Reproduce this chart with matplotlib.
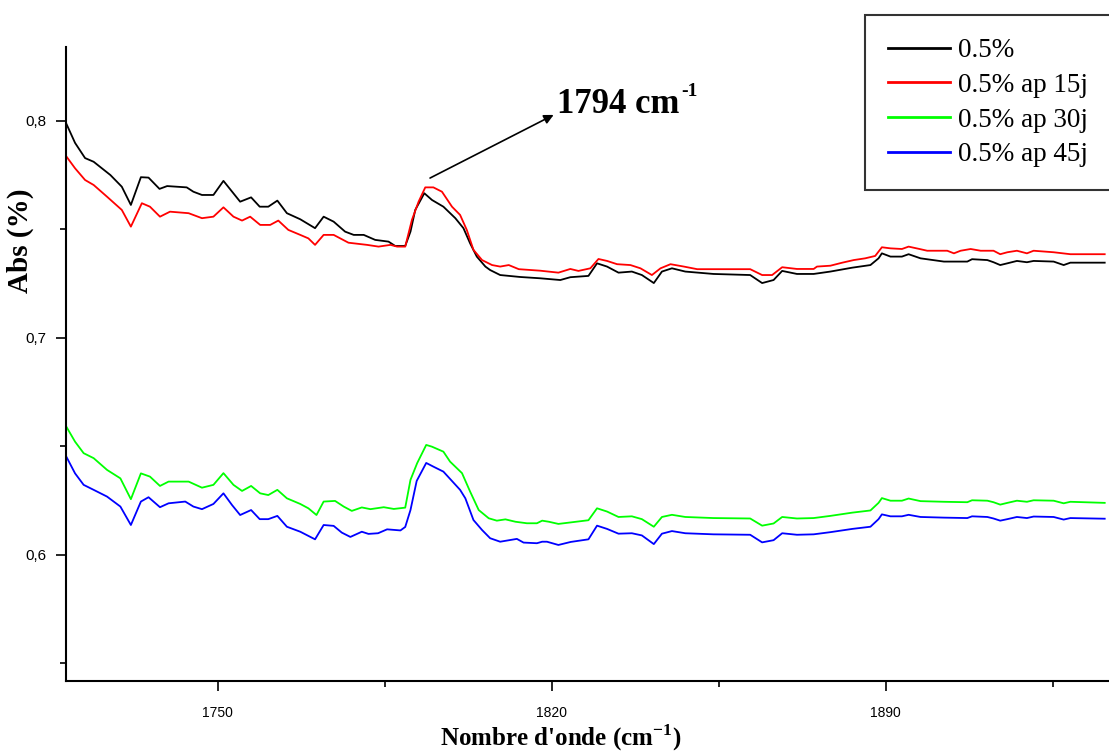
import matplotlib
matplotlib.use("Agg")
import matplotlib.pyplot as plt
from matplotlib.ticker import MultipleLocator

plt.rcParams['font.family'] = ['Liberation Sans', 'DejaVu Sans']
plt.rcParams['mathtext.fontset'] = 'custom'
plt.rcParams['mathtext.rm'] = 'Liberation Serif:bold'
plt.rcParams['mathtext.bf'] = 'Liberation Serif:bold'

# spectres IR, zone du carbonyle (nombre d'onde en cm-1, absorbance)
wn_0 = [1718.2, 1720.1, 1722.2, 1724.0, 1727.5, 1729.9, 1731.8, 1733.9, 1735.5, 1737.8,
        1739.4, 1743.5, 1744.9, 1746.7, 1749.1, 1751.2, 1754.7, 1757.0, 1758.8, 1760.6,
        1762.5, 1764.5, 1767.3, 1770.4, 1772.2, 1774.3, 1776.7, 1778.5, 1780.6, 1783.0,
        1785.8, 1787.2, 1789.3, 1790.4, 1791.4, 1793.3, 1794.9, 1797.3, 1799.8, 1801.5,
        1802.9, 1804.3, 1806.1, 1807.1, 1809.2, 1813.4, 1817.6, 1821.8, 1823.9, 1827.7,
        1829.5, 1831.6, 1834.0, 1836.8, 1838.9, 1841.4, 1843.1, 1845.2, 1848.0, 1853.9,
        1861.6, 1864.1, 1866.5, 1868.3, 1871.4, 1874.9, 1878.4, 1883.0, 1886.8, 1888.5,
        1889.2, 1891.0, 1893.4, 1894.8, 1897.3, 1902.2, 1907.1, 1908.1, 1911.3, 1912.6,
        1914.0, 1915.5, 1917.5, 1919.6, 1921.0, 1925.2, 1927.3, 1928.7, 1935.9]
abs_0 = [0.7991, 0.7899, 0.7829, 0.7812, 0.7751, 0.7697, 0.7613, 0.7741, 0.7739, 0.7687,
         0.7700, 0.7694, 0.7674, 0.7659, 0.7659, 0.7724, 0.7628, 0.7648, 0.7605, 0.7605,
         0.7633, 0.7575, 0.7547, 0.7506, 0.7559, 0.7536, 0.7490, 0.7475, 0.7475, 0.7452,
         0.7444, 0.7424, 0.7424, 0.7490, 0.7590, 0.7667, 0.7636, 0.7605, 0.7552, 0.7506,
         0.7436, 0.7375, 0.7329, 0.7313, 0.7290, 0.7281, 0.7275, 0.7267, 0.7280, 0.7286,
         0.7344, 0.7329, 0.7301, 0.7306, 0.7290, 0.7253, 0.7306, 0.7321, 0.7306, 0.7295,
         0.7290, 0.7253, 0.7267, 0.7309, 0.7295, 0.7295, 0.7306, 0.7324, 0.7336, 0.7367,
         0.7390, 0.7375, 0.7375, 0.7386, 0.7367, 0.7352, 0.7352, 0.7363, 0.7359, 0.7349,
         0.7336, 0.7344, 0.7355, 0.7349, 0.7355, 0.7352, 0.7336, 0.7347, 0.7347]

wn_15 = [1718.2, 1720.1, 1722.2, 1724.0, 1726.8, 1729.9, 1731.8, 1734.1, 1735.8, 1737.9,
         1740.0, 1743.9, 1746.7, 1749.1, 1751.2, 1753.3, 1755.1, 1756.8, 1758.9, 1761.0,
         1762.7, 1764.8, 1767.3, 1769.0, 1770.4, 1772.2, 1774.3, 1777.4, 1781.3, 1783.7,
         1786.2, 1787.6, 1789.3, 1790.7, 1792.1, 1793.5, 1795.2, 1797.0, 1799.1, 1800.8,
         1802.2, 1803.6, 1805.4, 1807.5, 1809.2, 1811.0, 1813.1, 1817.6, 1821.4, 1823.9,
         1825.6, 1828.1, 1829.8, 1831.6, 1833.7, 1836.5, 1838.6, 1841.0, 1842.8, 1844.9,
         1847.7, 1850.5, 1861.6, 1864.1, 1866.2, 1868.3, 1871.4, 1874.9, 1875.6, 1878.4,
         1880.9, 1883.3, 1885.7, 1887.8, 1889.2, 1891.0, 1893.4, 1894.8, 1897.3, 1898.7,
         1902.9, 1904.3, 1905.7, 1907.8, 1909.9, 1912.6, 1914.0, 1915.5, 1917.5, 1919.6,
         1921.0, 1925.2, 1928.7, 1935.9]
abs_15 = [0.7839, 0.7782, 0.7728, 0.7705, 0.7651, 0.7590, 0.7513, 0.7621, 0.7605, 0.7559,
          0.7582, 0.7575, 0.7552, 0.7559, 0.7602, 0.7559, 0.7541, 0.7559, 0.7521, 0.7521,
          0.7541, 0.7498, 0.7475, 0.7459, 0.7429, 0.7475, 0.7475, 0.7439, 0.7429, 0.7421,
          0.7429, 0.7421, 0.7421, 0.7544, 0.7628, 0.7694, 0.7694, 0.7674, 0.7605, 0.7567,
          0.7498, 0.7406, 0.7359, 0.7336, 0.7329, 0.7336, 0.7317, 0.7310, 0.7301, 0.7318,
          0.7309, 0.7321, 0.7364, 0.7355, 0.7340, 0.7336, 0.7321, 0.7290, 0.7321, 0.7340,
          0.7329, 0.7317, 0.7317, 0.7290, 0.7290, 0.7326, 0.7318, 0.7318, 0.7329, 0.7333,
          0.7347, 0.7359, 0.7367, 0.7378, 0.7418, 0.7413, 0.7410, 0.7421, 0.7409, 0.7402,
          0.7402, 0.7390, 0.7402, 0.7410, 0.7402, 0.7402, 0.7386, 0.7395, 0.7402, 0.7390,
          0.7402, 0.7395, 0.7386, 0.7386]

wn_30 = [1718.2, 1720.1, 1721.9, 1724.0, 1726.8, 1729.6, 1731.8, 1733.9, 1735.8, 1737.9,
         1739.7, 1743.9, 1746.7, 1749.1, 1751.2, 1753.3, 1755.1, 1757.0, 1758.9, 1760.6,
         1762.5, 1764.5, 1767.3, 1769.0, 1770.7, 1772.2, 1774.6, 1776.4, 1778.1, 1780.2,
         1782.0, 1784.8, 1786.9, 1789.3, 1790.4, 1791.8, 1793.7, 1794.9, 1797.3, 1798.7,
         1801.2, 1802.9, 1804.7, 1806.8, 1808.5, 1810.3, 1812.4, 1814.8, 1816.9, 1818.0,
         1819.4, 1821.4, 1824.0, 1827.7, 1829.5, 1831.6, 1834.0, 1836.8, 1838.9, 1841.4,
         1843.1, 1845.2, 1848.0, 1853.9, 1861.6, 1864.1, 1866.5, 1868.3, 1871.4, 1874.9,
         1878.4, 1883.0, 1886.8, 1888.5, 1889.2, 1891.0, 1893.4, 1894.8, 1897.3, 1902.2,
         1907.1, 1908.1, 1911.3, 1912.6, 1914.0, 1915.5, 1917.5, 1919.6, 1921.0, 1925.2,
         1927.3, 1928.7, 1935.9]
abs_30 = [0.6594, 0.6522, 0.6469, 0.6446, 0.6392, 0.6353, 0.6257, 0.6376, 0.6361, 0.6318,
          0.6338, 0.6338, 0.6310, 0.6323, 0.6377, 0.6323, 0.6295, 0.6318, 0.6284, 0.6276,
          0.6300, 0.6261, 0.6235, 0.6215, 0.6184, 0.6246, 0.6249, 0.6223, 0.6203, 0.6219,
          0.6211, 0.6220, 0.6212, 0.6218, 0.6346, 0.6423, 0.6507, 0.6499, 0.6476, 0.6430,
          0.6377, 0.6292, 0.6207, 0.6169, 0.6158, 0.6164, 0.6153, 0.6146, 0.6146, 0.6158,
          0.6153, 0.6143, 0.6150, 0.6160, 0.6215, 0.6200, 0.6175, 0.6178, 0.6165, 0.6130,
          0.6175, 0.6185, 0.6175, 0.6170, 0.6168, 0.6135, 0.6145, 0.6175, 0.6168, 0.6170,
          0.6180, 0.6195, 0.6205, 0.6240, 0.6262, 0.6250, 0.6250, 0.6260, 0.6248, 0.6245,
          0.6243, 0.6252, 0.6250, 0.6243, 0.6232, 0.6240, 0.6250, 0.6245, 0.6252, 0.6250,
          0.6238, 0.6245, 0.6240]

wn_45 = [1718.2, 1720.1, 1721.9, 1724.0, 1726.8, 1729.6, 1731.8, 1733.9, 1735.5, 1737.9,
         1739.7, 1743.2, 1744.9, 1746.7, 1749.1, 1751.2, 1753.0, 1754.7, 1757.0, 1758.8,
         1760.6, 1762.5, 1764.5, 1767.3, 1770.4, 1772.2, 1774.3, 1776.0, 1777.8, 1780.2,
         1781.6, 1783.6, 1785.5, 1788.3, 1789.3, 1790.4, 1791.7, 1793.7, 1795.2, 1797.3,
         1800.8, 1801.9, 1803.6, 1805.4, 1807.1, 1809.2, 1812.7, 1814.1, 1816.9, 1818.0,
         1819.0, 1821.4, 1824.0, 1827.7, 1829.5, 1831.6, 1834.0, 1836.8, 1838.9, 1841.4,
         1843.1, 1845.2, 1848.0, 1853.9, 1861.6, 1864.1, 1866.5, 1868.3, 1871.4, 1874.9,
         1878.4, 1883.0, 1886.8, 1888.5, 1889.2, 1891.0, 1893.4, 1894.8, 1897.3, 1902.2,
         1907.1, 1908.1, 1911.3, 1912.6, 1914.0, 1915.5, 1917.5, 1919.6, 1921.0, 1925.2,
         1927.3, 1928.7, 1935.9]
abs_45 = [0.6456, 0.6376, 0.6323, 0.6300, 0.6269, 0.6223, 0.6138, 0.6246, 0.6266, 0.6220,
          0.6238, 0.6246, 0.6223, 0.6211, 0.6235, 0.6284, 0.6230, 0.6184, 0.6207, 0.6165,
          0.6165, 0.6180, 0.6130, 0.6107, 0.6072, 0.6138, 0.6134, 0.6103, 0.6083, 0.6107,
          0.6097, 0.6100, 0.6118, 0.6113, 0.6129, 0.6207, 0.6341, 0.6424, 0.6407, 0.6384,
          0.6300, 0.6261, 0.6161, 0.6115, 0.6077, 0.6061, 0.6074, 0.6057, 0.6054, 0.6061,
          0.6061, 0.6046, 0.6060, 0.6072, 0.6135, 0.6120, 0.6098, 0.6100, 0.6090, 0.6050,
          0.6098, 0.6110, 0.6100, 0.6095, 0.6093, 0.6058, 0.6068, 0.6100, 0.6093, 0.6095,
          0.6105, 0.6120, 0.6130, 0.6165, 0.6187, 0.6178, 0.6178, 0.6185, 0.6175, 0.6172,
          0.6170, 0.6178, 0.6175, 0.6168, 0.6158, 0.6165, 0.6175, 0.6170, 0.6177, 0.6175,
          0.6163, 0.6170, 0.6167]

labels = ['0.5%', '0.5% ap 15j', '0.5% ap 30j', '0.5% ap 45j']
colors = ['#000000', '#ff0000', '#00ff00', '#0000ff']

x_ticks = [1750, 1820, 1890]
y_ticks = [0.6, 0.7, 0.8]
y_ticklabels = ['0,6', '0,7', '0,8']

# bande carbonyle pointee par la fleche
peak_wn = 1794
peak_abs = 0.7667

fig = plt.figure(figsize=(11.09, 7.53), dpi=100)
ax = fig.add_axes([0.0595, 0.0956, 0.9405, 0.842])

series = [(wn_0, abs_0), (wn_15, abs_15), (wn_30, abs_30), (wn_45, abs_45)]
for (wn, ab), lab, col in zip(series, labels, colors):
    ax.plot(wn, ab, color=col, lw=1.3, label=lab)

ax.set_xlim(1718.2, 1936.8)
ax.set_ylim(0.5419, 0.8341)

ax.spines['top'].set_visible(False)
ax.spines['right'].set_visible(False)
for s in ['left', 'bottom']:
    ax.spines[s].set_linewidth(1.5)

ax.set_xticks(x_ticks)
ax.xaxis.set_minor_locator(MultipleLocator(35))
ax.set_yticks(y_ticks)
ax.set_yticklabels(y_ticklabels)
ax.yaxis.set_minor_locator(MultipleLocator(0.05))
ax.tick_params(which='major', direction='out', length=7, width=1.2, labelsize=10)
ax.tick_params(axis='y', labelsize=11)
ax.tick_params(which='minor', direction='out', length=4, width=1.2)
ax.tick_params(axis='x', pad=11)
ax.tick_params(axis='y', pad=7)

ax.set_xlabel("Nombre d'onde (cm$^{-1}$)", fontsize=18, fontweight='bold',
              family='Liberation Serif')
ax.xaxis.set_label_coords(0.474, -0.066)
ax.set_ylabel("Abs (%)", fontsize=21, fontweight='bold', family='Liberation Serif')
ax.yaxis.set_label_coords(-0.031, 0.694)

# fleche vers le pic puis etiquette
ax.annotate('', xy=(1820.4, 0.8028), xytext=(peak_wn + 0.5, peak_abs + 0.007),
            arrowprops=dict(arrowstyle='-|>', color='black', lw=1.2,
                            mutation_scale=14, shrinkA=0, shrinkB=0))
ax.text(1821.2, 0.8074, f"{peak_wn} cm", fontsize=25, fontweight='bold',
        family='Liberation Serif', va='center', ha='left')
ax.text(1847.2, 0.8134, "-1", fontsize=14, fontweight='bold',
        family='Liberation Serif', va='center', ha='left')

leg = ax.legend(loc='upper left', bbox_to_anchor=(865 / 1109, 1 - 15 / 753),
                bbox_transform=fig.transFigure, frameon=True, fancybox=False,
                prop={'family': 'Liberation Serif', 'size': 19.5},
                handlelength=2.3, handletextpad=0.3, borderpad=0.85,
                labelspacing=0.36, borderaxespad=0)
leg.get_frame().set_edgecolor('black')
leg.get_frame().set_linewidth(1.5)
for h in leg.get_lines():
    h.set_linewidth(2)

fig.savefig('out.png', dpi=100, facecolor='white')
